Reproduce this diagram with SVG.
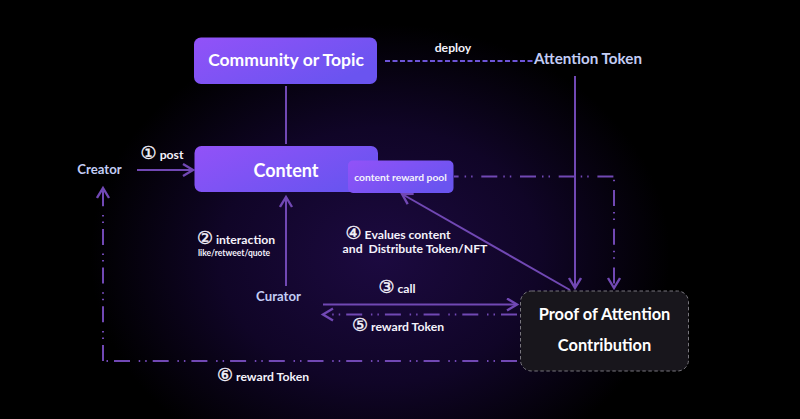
<svg xmlns="http://www.w3.org/2000/svg" width="800" height="419" viewBox="0 0 800 419">
<style>
text{font-family:"Lato","Open Sans","Liberation Sans",sans-serif;font-weight:700;fill:#f4f2fb;text-anchor:middle;white-space:pre}
.actor{fill:#c3cdf5;font-size:13.200px}
.lbl{font-size:12.200px}
.n{font-family:"DejaVu Sans",sans-serif;font-weight:400;font-size:18px;stroke:#f4f2fb;stroke-width:.4}
.box{fill:#fff}
.c{fill:none;stroke:#7148b4;stroke-width:2}
.dd{stroke-dasharray:16 6 1.500 5 1.500 8.700}
</style>
<defs>
<radialGradient id="bg" gradientUnits="userSpaceOnUse" cx="380" cy="245" r="290" gradientTransform="translate(0 60) scale(1 .8)">
<stop offset="0" stop-color="#1c0a40"/><stop offset=".55" stop-color="#100527"/><stop offset="1" stop-color="#000"/>
</radialGradient>
<linearGradient id="pg" x1="0" y1="0" x2="1" y2=".6">
<stop offset="0" stop-color="#9252f8"/><stop offset="1" stop-color="#6a54f0"/>
</linearGradient>
<marker id="arr" markerWidth="14" markerHeight="16" refX="11" refY="7" orient="auto" markerUnits="userSpaceOnUse">
<path d="M1 1L11 7L1 13" fill="none" stroke="#7148b4" stroke-width="2.400"/>
</marker>
</defs>
<rect width="800" height="419" fill="#000"/>
<rect width="800" height="419" fill="url(#bg)"/>
<g id="connectors">
<path class="c" d="M286 86V144"/>
<path class="c" d="M137 170H193" marker-end="url(#arr)"/>
<path class="c" d="M385 61H533" style="stroke:#6d54d8;stroke-dasharray:5 2.500"/>
<path class="c" d="M575 76V288" marker-end="url(#arr)"/>
<path class="c dd" d="M454 176.500H614" stroke-dashoffset="11.400"/>
<path class="c dd" d="M614 176.500V288" stroke-dashoffset="25.200" marker-end="url(#arr)"/>
<path class="c" d="M570 290L402 194" marker-end="url(#arr)"/>
<path class="c" d="M286 286V197" marker-end="url(#arr)"/>
<path class="c" d="M323 304.500H517" marker-end="url(#arr)"/>
<path class="c dd" d="M517 314.500H323" marker-end="url(#arr)"/>
<path class="c dd" d="M517 361H103"/>
<path class="c dd" d="M103 361V188" marker-end="url(#arr)"/>
</g>
<g id="community"><rect x="194" y="37.500" width="183" height="46.500" rx="7" fill="url(#pg)"/><text class="box" x="286" y="66" font-size="17.500">Community or Topic</text></g>
<g id="content"><rect x="194.500" y="146" width="183.500" height="46" rx="7" fill="url(#pg)"/><text class="box" x="286" y="177" font-size="18">Content</text></g>
<g id="pool"><rect x="348" y="160.500" width="105.500" height="32.500" rx="5" fill="url(#pg)"/><text x="400.500" y="181" font-size="10.300">content reward pool</text></g>
<g id="attention-token"><text class="actor" x="588" y="64" style="font-size:15.200px">Attention Token</text></g>
<g id="creator"><text class="actor" x="99.500" y="174">Creator</text></g>
<g id="curator"><text class="actor" x="278.500" y="301">Curator</text></g>
<g id="proof"><rect x="520.500" y="291" width="168" height="80" rx="11" fill="#18161c" stroke="#77757c" stroke-width="1" stroke-dasharray="3.500 2.500"/>
<text class="box" x="604.500" y="320" font-size="16.400">Proof of Attention</text><text class="box" x="604.500" y="351" font-size="16.400">Contribution</text></g>
<g id="labels">
<text class="lbl" x="453" y="52">deploy</text>
<text class="lbl" x="162" y="159"><tspan class="n">①</tspan> post</text>
<text class="lbl" x="236" y="244"><tspan class="n">②</tspan> interaction</text>
<text x="234" y="256" font-size="8.500">like/retweet/quote</text>
<text class="lbl" x="398" y="239"><tspan class="n">④</tspan> Evalues content</text>
<text class="lbl" x="415" y="253">and  Distribute Token/NFT</text>
<text class="lbl" x="397" y="293"><tspan class="n">③</tspan> call</text>
<text class="lbl" x="398" y="331"><tspan class="n">⑤</tspan> reward Token</text>
<text class="lbl" x="263" y="381"><tspan class="n">⑥</tspan> reward Token</text>
</g>
</svg>
